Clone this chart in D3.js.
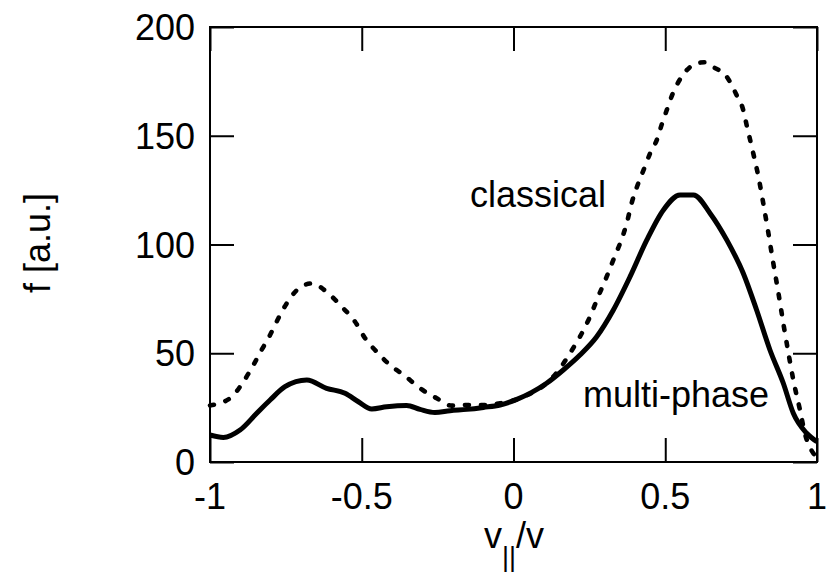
<!DOCTYPE html>
<html>
<head>
<meta charset="utf-8">
<script src="https://cdn.jsdelivr.net/npm/d3@7"></script>
<style>
  html, body { margin: 0; padding: 0; background: #fff; }
  svg { display: block; }
  text { font-family: "Liberation Sans", Arial, sans-serif; fill: #000; }
</style>
</head>
<body>
<svg id="chart" width="830" height="576"></svg>
<script>
// ---- data ----
const classicalX = [-1, -0.934, -0.890, -0.857, -0.830, -0.802, -0.775, -0.747, -0.714, -0.665, -0.610, -0.566, -0.522, -0.489, -0.451, -0.407, -0.357, -0.308, -0.253, -0.204, -0.154, -0.099, -0.044, 0.005, 0.060, 0.109, 0.153, 0.186, 0.219, 0.252, 0.279, 0.307, 0.329, 0.351, 0.373, 0.389, 0.411, 0.433, 0.450, 0.472, 0.488, 0.505, 0.525, 0.554, 0.604, 0.630, 0.653, 0.708, 0.735, 0.757, 0.768, 0.779, 0.790, 0.807, 0.823, 0.840, 0.856, 0.873, 0.889, 0.906, 0.922, 0.944, 0.960, 0.988, 1.0];
const classicalY = [26, 29.3, 36.9, 44.6, 51.5, 58.4, 66, 73, 79, 82.1, 77.5, 71.4, 64.5, 56.9, 50.7, 44.6, 39.5, 33.9, 29.3, 25.9, 26.2, 26.2, 27, 28.5, 31.8, 36.2, 43, 50, 57.6, 66.8, 76, 85.2, 92.9, 100.5, 109.7, 118.9, 128.1, 135.8, 141.9, 148, 155, 161.8, 169.5, 177.1, 183.3, 183.8, 182, 176, 168.7, 161.8, 155, 148.5, 141.9, 131.2, 118.9, 105.1, 91.4, 77.6, 63.8, 50, 37.7, 23.9, 13.2, 4, 2];

const multiX = [-1, -0.956, -0.901, -0.846, -0.802, -0.753, -0.681, -0.616, -0.555, -0.511, -0.467, -0.418, -0.352, -0.308, -0.259, -0.209, -0.154, -0.099, -0.044, 0.011, 0.060, 0.109, 0.164, 0.219, 0.274, 0.329, 0.384, 0.439, 0.494, 0.549, 0.593, 0.648, 0.703, 0.757, 0.801, 0.845, 0.889, 0.922, 0.966, 1.0];
const multiY = [12.4, 11.3, 14.7, 22.4, 28.5, 34.6, 37.7, 33.9, 31.6, 27.7, 24.4, 25.4, 26, 24.2, 22.8, 23.6, 24.2, 25.1, 26.2, 28.8, 32, 36.2, 42.3, 49.2, 57.6, 69.9, 85.2, 102, 115.9, 122.8, 122.8, 114.3, 102, 86.8, 69.9, 51.5, 36.2, 22.4, 13.2, 9.3];

const xTicks = [-1, -0.5, 0, 0.5, 1];
const xTickLabels = ["-1", "-0.5", "0", "0.5", "1"];
const yTicks = [0, 50, 100, 150, 200];
const yTickLabels = ["0", "50", "100", "150", "200"];

const seriesLabels = ["classical", "multi-phase"];
const yAxisTitle = "f [a.u.]";

// ---- layout ----
const svg = d3.select("#chart");
const mL = 210, mR = 817, mT = 27, mB = 462;
const x = d3.scaleLinear().domain([-1, 1]).range([mL, mR]);
const y = d3.scaleLinear().domain([0, 200]).range([mB, mT]);
const tickLen = 24;
const fs = 36;

// curves
const line = d3.line().x(d => x(d[0])).y(d => y(d[1])).curve(d3.curveMonotoneX);
const classical = classicalX.map((v, i) => [v, classicalY[i]]);
const multi = multiX.map((v, i) => [v, multiY[i]]);

svg.append("path").datum(multi)
  .attr("d", line).attr("fill", "none").attr("stroke", "#000")
  .attr("stroke-width", 5).attr("stroke-linejoin", "round");

svg.append("path").datum(classical)
  .attr("d", line).attr("fill", "none").attr("stroke", "#000")
  .attr("stroke-width", 4.6).attr("stroke-linecap", "round")
  .attr("stroke-dasharray", "4,12");

// axes (ticks inside, mirrored)
const g = svg.append("g");
const axB = d3.axisBottom(x).tickValues(xTicks).tickSizeInner(-tickLen).tickSizeOuter(0).tickFormat("");
const axT = d3.axisTop(x).tickValues(xTicks).tickSizeInner(-tickLen).tickSizeOuter(0).tickFormat("");
const axL = d3.axisLeft(y).tickValues(yTicks).tickSizeInner(-tickLen).tickSizeOuter(0).tickFormat("");
const axR = d3.axisRight(y).tickValues(yTicks).tickSizeInner(-tickLen).tickSizeOuter(0).tickFormat("");
g.append("g").attr("transform", `translate(0,${mB})`).call(axB);
g.append("g").attr("transform", `translate(0,${mT})`).call(axT);
g.append("g").attr("transform", `translate(${mL},0)`).call(axL);
g.append("g").attr("transform", `translate(${mR},0)`).call(axR);
g.selectAll(".domain").remove();
g.selectAll(".tick line").attr("stroke", "#000").attr("stroke-width", 2);

// frame
svg.append("rect").attr("x", mL).attr("y", mT)
  .attr("width", mR - mL).attr("height", mB - mT)
  .attr("fill", "none").attr("stroke", "#000").attr("stroke-width", 2);

// tick labels
svg.append("g").selectAll("text").data(xTicks).join("text")
  .attr("x", d => x(d)).attr("y", 509)
  .attr("text-anchor", "middle").attr("font-size", fs)
  .text((d, i) => xTickLabels[i]);
svg.append("g").selectAll("text").data(yTicks).join("text")
  .attr("x", 195).attr("y", d => y(d) + 13)
  .attr("text-anchor", "end").attr("font-size", fs)
  .text((d, i) => yTickLabels[i]);

// axis titles
const xt = svg.append("text").attr("x", 514).attr("y", 548)
  .attr("text-anchor", "middle").attr("font-size", fs);
xt.append("tspan").text("v");
xt.append("tspan").attr("font-size", 27).attr("dy", 18).text("||");
xt.append("tspan").attr("dy", -18).text("/v");

svg.append("text")
  .attr("transform", "translate(50,243) rotate(-90)")
  .attr("text-anchor", "middle").attr("font-size", fs)
  .text(yAxisTitle);

// series labels
svg.append("text").attr("x", 470).attr("y", 207).attr("font-size", fs).text(seriesLabels[0]);
svg.append("text").attr("x", 583).attr("y", 407).attr("font-size", fs).text(seriesLabels[1]);
</script>
</body>
</html>
